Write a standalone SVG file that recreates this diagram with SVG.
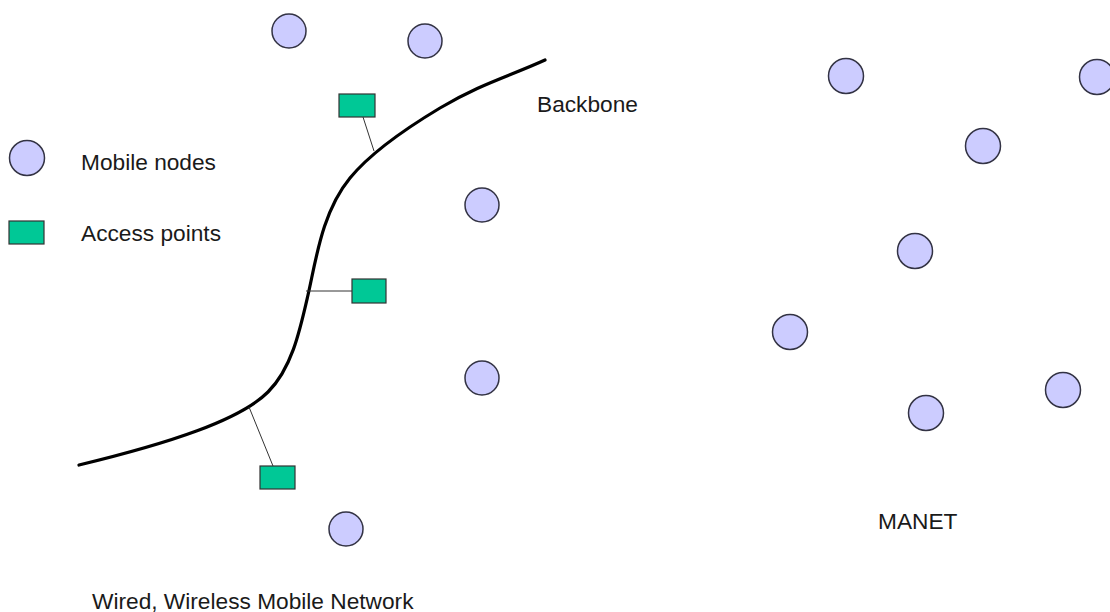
<svg xmlns="http://www.w3.org/2000/svg" width="1110" height="612" viewBox="0 0 1110 612">
<style>
.node{fill:#ccccff;stroke:#333344;stroke-width:1.5}
.ap{fill:#00c896;stroke:#333333;stroke-width:1.2}
.link{stroke:#333333;stroke-width:1;fill:none}
.backbone{stroke:#000000;stroke-width:3.2;fill:none;stroke-linecap:round}
.lbl{font-family:"Liberation Sans",Arial,sans-serif;font-size:22.7px;fill:#1a1a1a}
</style>
<rect width="1110" height="612" fill="#ffffff"/>
<g id="connectors">
<path class="backbone" d="M79,465 C170,443 240,420 268,392 C292,368 300,330 308,295 C316,260 322,212 350,178 C368,156 400,132 440,108 S510,76 545,60"/>
<line class="link" x1="363" y1="117" x2="374" y2="151"/>
<line class="link" x1="306" y1="291" x2="352" y2="291"/>
<line class="link" x1="249" y1="407" x2="273" y2="466"/>
</g>
<g id="legend-node"><circle class="node" cx="27" cy="158" r="17.5"/></g>
<g id="legend-ap"><rect class="ap" x="9" y="221" width="35" height="23"/></g>
<g id="ap1"><rect class="ap" x="339" y="94" width="36" height="23"/></g>
<g id="ap2"><rect class="ap" x="352" y="279" width="34" height="24"/></g>
<g id="ap3"><rect class="ap" x="260" y="466" width="35" height="23"/></g>
<g id="n1"><circle class="node" cx="289" cy="31" r="17"/></g>
<g id="n2"><circle class="node" cx="425" cy="41" r="17"/></g>
<g id="n3"><circle class="node" cx="482" cy="205" r="17"/></g>
<g id="n4"><circle class="node" cx="482" cy="378" r="17"/></g>
<g id="n5"><circle class="node" cx="346" cy="529" r="17"/></g>
<g id="m1"><circle class="node" cx="846" cy="76" r="17.5"/></g>
<g id="m2"><circle class="node" cx="1097" cy="77" r="17.5"/></g>
<g id="m3"><circle class="node" cx="983" cy="146" r="17.5"/></g>
<g id="m4"><circle class="node" cx="915" cy="251" r="17.5"/></g>
<g id="m5"><circle class="node" cx="790" cy="332" r="17.5"/></g>
<g id="m6"><circle class="node" cx="1063" cy="390" r="17.5"/></g>
<g id="m7"><circle class="node" cx="926" cy="413" r="17.5"/></g>
<g id="labels">
<text class="lbl" x="81" y="170">Mobile nodes</text>
<text class="lbl" x="81" y="241">Access points</text>
<text class="lbl" x="537" y="112">Backbone</text>
<text class="lbl" x="878" y="529">MANET</text>
<text class="lbl" x="92" y="609">Wired, Wireless Mobile Network</text>
</g>
</svg>
